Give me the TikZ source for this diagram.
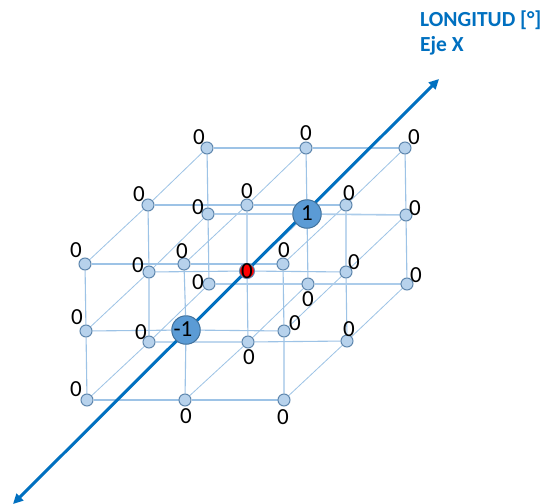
\documentclass[tikz,border=0pt]{standalone}
\usepackage{fontspec}
\setmainfont{Carlito}
\usetikzlibrary{arrows.meta,backgrounds}
\definecolor{axisblue}{HTML}{0070C0}
\definecolor{gridblue}{HTML}{9DC3E6}
\definecolor{ptfill}{HTML}{B7D2EC}
\definecolor{ptline}{HTML}{5F87AE}
\definecolor{bigfill}{HTML}{5B9BD5}
\definecolor{bigline}{HTML}{41719C}
\tikzset{
  x=1pt,y=-1pt,
  pt/.style={circle,draw=ptline,fill=ptfill,line width=1pt,minimum size=12pt,inner sep=0pt},
  bigpt/.style={circle,draw=bigline,fill=bigfill,line width=1pt,minimum size=28.5pt,inner sep=0pt},
  redpt/.style={circle,draw=ptline,fill=red,line width=1pt,minimum size=15pt,inner sep=0pt},
  val/.style={font=\fontsize{23}{23}\selectfont,text=black,inner sep=0pt},
  wid/.style={draw=gridblue,line width=1.1pt},
  depth/.style={draw=gridblue,line width=0.8pt},
  thick row/.style={draw=gridblue!85,line width=1.6pt},
  axisline/.style={draw=axisblue,line width=3pt,{Triangle[length=10pt,width=9.5pt]}-{Triangle[length=10pt,width=9.5pt]}},
  title/.style={font=\fontsize{21.5}{21.5}\selectfont\bfseries,text=axisblue,inner sep=0pt,anchor=west}
}
\begin{document}
\begin{tikzpicture}
\useasboundingbox (0,0) rectangle (543,503);
% grid nodes: t/m/b height; f/c/k depth; 1/2/3 column
\foreach \n/\x/\y in {
  tk1/207/148,tk2/306/148,tk3/405/148,
  tc1/148/205,tc2/247/205,tc3/346/205,
  tf1/85/264,tf2/184/264,tf3/283/264,
  mk1/208/214,mk3/406/215,
  mc1/149/272,mc3/346/272,
  mf1/86/331,mf3/284/331,
  bk1/209/284,bk2/308/284,bk3/407/284,
  bc1/149/342,bc2/248/342,bc3/347/341,
  bf1/87/400,bf2/185/400,bf3/284/400}
  \node[pt] (\n) at (\x,\y) {};
\node[bigpt] (mk2) at (307,214) {};
\node[bigpt] (mf2) at (186,330) {};
\node[redpt] (mc2) at (247,271) {};
\coordinate (axA) at (13,504);
\coordinate (axB) at (439,79);
\begin{scope}[on background layer]
  \fill[white] (0,0) rectangle (543,503);
  \foreach \h in {t,m,b} \foreach \c in {1,2,3} {
    \draw[depth] (\h f\c) -- (\h c\c) -- (\h k\c);
  }
  \foreach \d in {f,c,k} \foreach \c in {1,2,3} {
    \draw[wid] (t\d\c) -- (m\d\c) -- (b\d\c);
  }
  \foreach \h/\d in {t/k,t/c,t/f,m/f,b/f,m/c,b/c}
    \draw[wid] (\h\d1) -- (\h\d2) -- (\h\d3);
  \foreach \h/\d in {m/k,b/k}
    \draw[thick row] (\h\d1) -- (\h\d2) -- (\h\d3);
  \draw[axisline] (axA) -- (axB);
\end{scope}
% values
\foreach \n/\x/\y in {
  a1/199/137,a2/306/133,a3/414/137,
  a4/139/194,a5/247/191,a6/349/193,
  a7/198/207,a8/415/208,
  a9/76/250,a10/182/251,a11/284/250,
  a12/138/265,a13/354/262,a14/416/275,a15/198/282,
  a16/247/271,a17/308/299,
  a18/77/317,a19/295/323,a20/141/332,a21/349/329,
  a22/249/357,a23/76/389,a24/186/416,a25/283/417}
  \node[val] (\n) at (\x,\y) {0};
\node[val] (one) at (307,213) {1};
\node[val] (mone) at (183,329) {-1};
\node[title] (t1) at (420,20) {LONGITUD [°]};
\node[title] (t2) at (420,46) {Eje X};
\end{tikzpicture}
\end{document}
